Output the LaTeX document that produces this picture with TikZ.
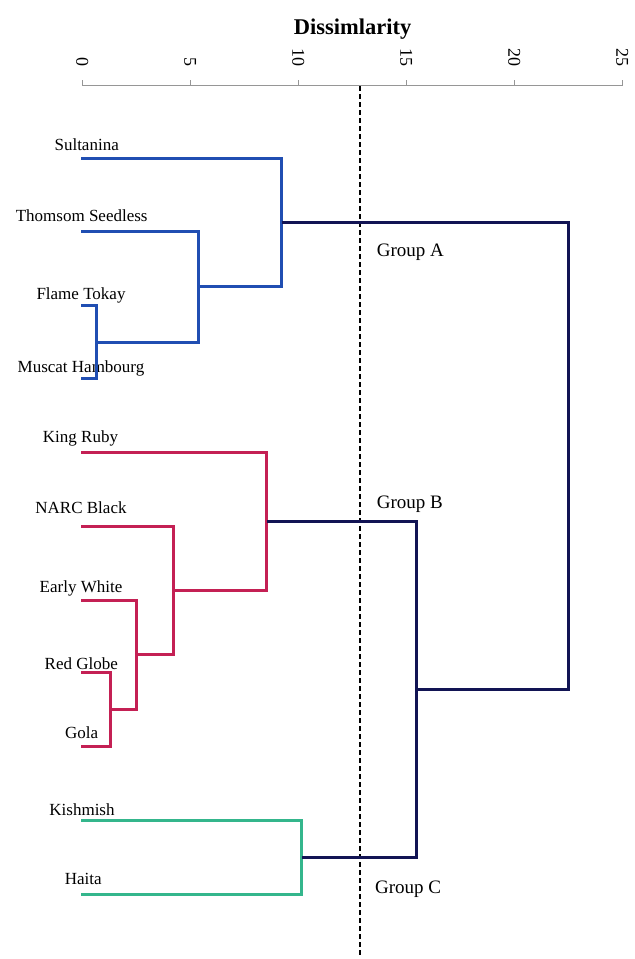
\documentclass[tikz,border=0pt]{standalone}
\usepackage{fontspec}
\setmainfont{Liberation Serif}
\definecolor{cblue}{RGB}{32,78,178}
\definecolor{cred}{RGB}{196,32,84}
\definecolor{cgreen}{RGB}{52,182,140}
\definecolor{cnavy}{RGB}{18,20,84}
\definecolor{caxis}{RGB}{150,150,150}
\begin{document}
\begin{tikzpicture}[x=1bp,y=-1bp,
  leaf/.style={font=\fontsize{17bp}{20bp}\selectfont, anchor=base, inner sep=0pt},
  grp/.style={font=\fontsize{19bp}{22bp}\selectfont, anchor=base west, inner sep=0pt},
  ticklab/.style={font=\fontsize{18bp}{20bp}\selectfont, rotate=-90, anchor=east, inner sep=0pt},
  bl/.style={draw=cblue, line width=3bp},
  rd/.style={draw=cred, line width=3bp},
  gr/.style={draw=cgreen, line width=3bp},
  nv/.style={draw=cnavy, line width=3bp},
  cutline/.style={draw=black, line width=2bp, dash pattern=on 5bp off 3bp}]
\useasboundingbox (0,0) rectangle (635,959);
% title and axis
\node[font=\bfseries\fontsize{22.5bp}{26bp}\selectfont, anchor=base, inner sep=0pt] (title) at (352.5,34.3) {Dissimlarity};
\coordinate (ax0) at (82.5,85.5);
\coordinate (ax25) at (622.5,85.5);
\draw[caxis, line width=1bp] (ax0) -- (ax25);
\foreach \v/\n in {0/t0,5/t5,10/t10,15/t15,20/t20,25/t25}{
  \coordinate (\n) at ({82.5+21.6*\v},85.5);
  \draw[caxis, line width=1bp] (\n) -- ++(0,-6);
  \node[ticklab] (\n lab) at ({82.3+21.6*\v},67) {\v};
}
% cut line
\coordinate (cutA) at (360,86);
\coordinate (cutB) at (360,957);
\draw[cutline] (cutA) -- (cutB);
% leaf labels
\node[leaf] (sul) at (86.7,150.7) {Sultanina};
\node[leaf] (tho) at (81.7,221.7) {Thomsom Seedless};
\node[leaf] (fla) at (81,299.3) {Flame Tokay};
\node[leaf] (mus) at (81,372.3) {Muscat Hambourg};
\node[leaf] (kin) at (80.5,442.3) {King Ruby};
\node[leaf] (nar) at (81,513.3) {NARC Black};
\node[leaf] (ear) at (81,592.3) {Early White};
\node[leaf] (red) at (81.3,669.3) {Red Globe};
\node[leaf] (gol) at (81.7,738.3) {Gola};
\node[leaf] (kis) at (82,815) {Kishmish};
\node[leaf] (hai) at (83.3,884) {Haita};
% leaf line starts
\coordinate (Lsul) at (81,158.5);
\coordinate (Ltho) at (81,231.5);
\coordinate (Lfla) at (81,305.5);
\coordinate (Lmus) at (81,378.5);
\coordinate (Lkin) at (81,452.5);
\coordinate (Lnar) at (81,526.5);
\coordinate (Lear) at (81,600.5);
\coordinate (Lred) at (81,672.5);
\coordinate (Lgol) at (81,746.5);
\coordinate (Lkis) at (81,820.5);
\coordinate (Lhai) at (81,894.5);
% joins
\coordinate (J1) at (96.5,342.5);   % Flame/Muscat
\coordinate (J2) at (198.5,286.5);  % Thomsom + J1
\coordinate (J3) at (281.5,222.5);  % Sultanina + J2
\coordinate (J4) at (110.5,709.5);  % Red Globe/Gola
\coordinate (J5) at (136.5,654.5);  % Early White + J4
\coordinate (J6) at (173.5,590.5);  % NARC + J5
\coordinate (J7) at (266.5,521.5);  % King Ruby + J6
\coordinate (J8) at (301.5,857.5);  % Kishmish/Haita
\coordinate (J9) at (416.5,689.5);  % J7 + J8
\coordinate (J10) at (568.5,456);   % J3 + J9
% blue cluster
\draw[bl] (Lfla) -| (J1) |- (Lmus);
\draw[bl] (Ltho) -| (J2) |- (J1);
\draw[bl] (Lsul) -| (J3) |- (J2);
% red cluster
\draw[rd] (Lred) -| (J4) |- (Lgol);
\draw[rd] (Lear) -| (J5) |- (J4);
\draw[rd] (Lnar) -| (J6) |- (J5);
\draw[rd] (Lkin) -| (J7) |- (J6);
% green cluster
\draw[gr] (Lkis) -| (J8) |- (Lhai);
% navy links
\draw[nv] (J7) -| (J9) |- (J8);
\draw[nv] (J3) -| (J10) |- (J9);
% group labels
\node[grp] (gA) at (376.7,256) {Group A};
\node[grp] (gB) at (376.7,508.3) {Group B};
\node[grp] (gC) at (375,893.3) {Group C};
\end{tikzpicture}
\end{document}
